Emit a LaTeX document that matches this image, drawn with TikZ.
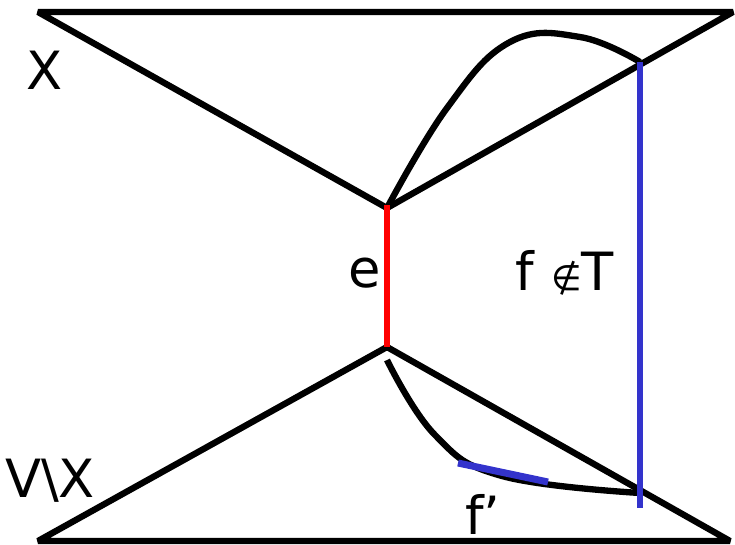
\documentclass[tikz,border=0pt]{standalone}
\usepackage{fontspec}
\setmainfont{DejaVu Sans}
\definecolor{fblue}{RGB}{51,51,204}
\begin{document}
\begin{tikzpicture}[
  x=0.02cm, y=-0.02cm,
  edge/.style={line width=3.6pt, line join=bevel},
  cutedge/.style={line width=3pt, red},
  fedge/.style={line width=3pt, fblue},
  lbl/.style={font=\fontsize{30}{36}\selectfont, inner sep=0pt, anchor=base}
]
\useasboundingbox (0,0) rectangle (735,545);
% the two sides of the cut
\coordinate (xl) at (38,12);
\coordinate (xr) at (733,12);
\coordinate (xa) at (387,208);
\coordinate (vl) at (38,541);
\coordinate (vr) at (730,541);
\coordinate (va) at (387,347);
\coordinate (ftop) at (640,62);
\coordinate (fbot) at (640,508);
\coordinate (fend) at (640,493);
\coordinate (pstart) at (387,360);
\coordinate (fpa) at (458,463);
\coordinate (fpb) at (548,482);
\draw[edge] (xl) -- (xr) -- (xa) -- cycle;
\draw[edge] (vl) -- (vr) -- (va) -- cycle;
% paths in the tree
\draw[edge] plot[smooth, tension=0.7] coordinates {(xa) (447,108) (510,42) (580,37) (ftop)};
\draw[edge] plot[smooth, tension=0.7] coordinates {(pstart) (435,435) (502,476) (fend)};
\draw[cutedge] (387,205) -- (va);
\draw[fedge] (ftop) -- (fbot);
\draw[fedge, line width=4pt] (fpa) -- (fpb);
% labels
\node[lbl] (lx) at (45,89) {X};
\node[lbl] (lvx) at (50,497) {V\textbackslash X};
\node[lbl] (le) at (365,287) {e};
\node[lbl] (lf) at (565,290) {f {\fontsize{20}{24}\selectfont ∉}T};
\node[lbl] (lfp) at (483,534) {f'};
\end{tikzpicture}
\end{document}
